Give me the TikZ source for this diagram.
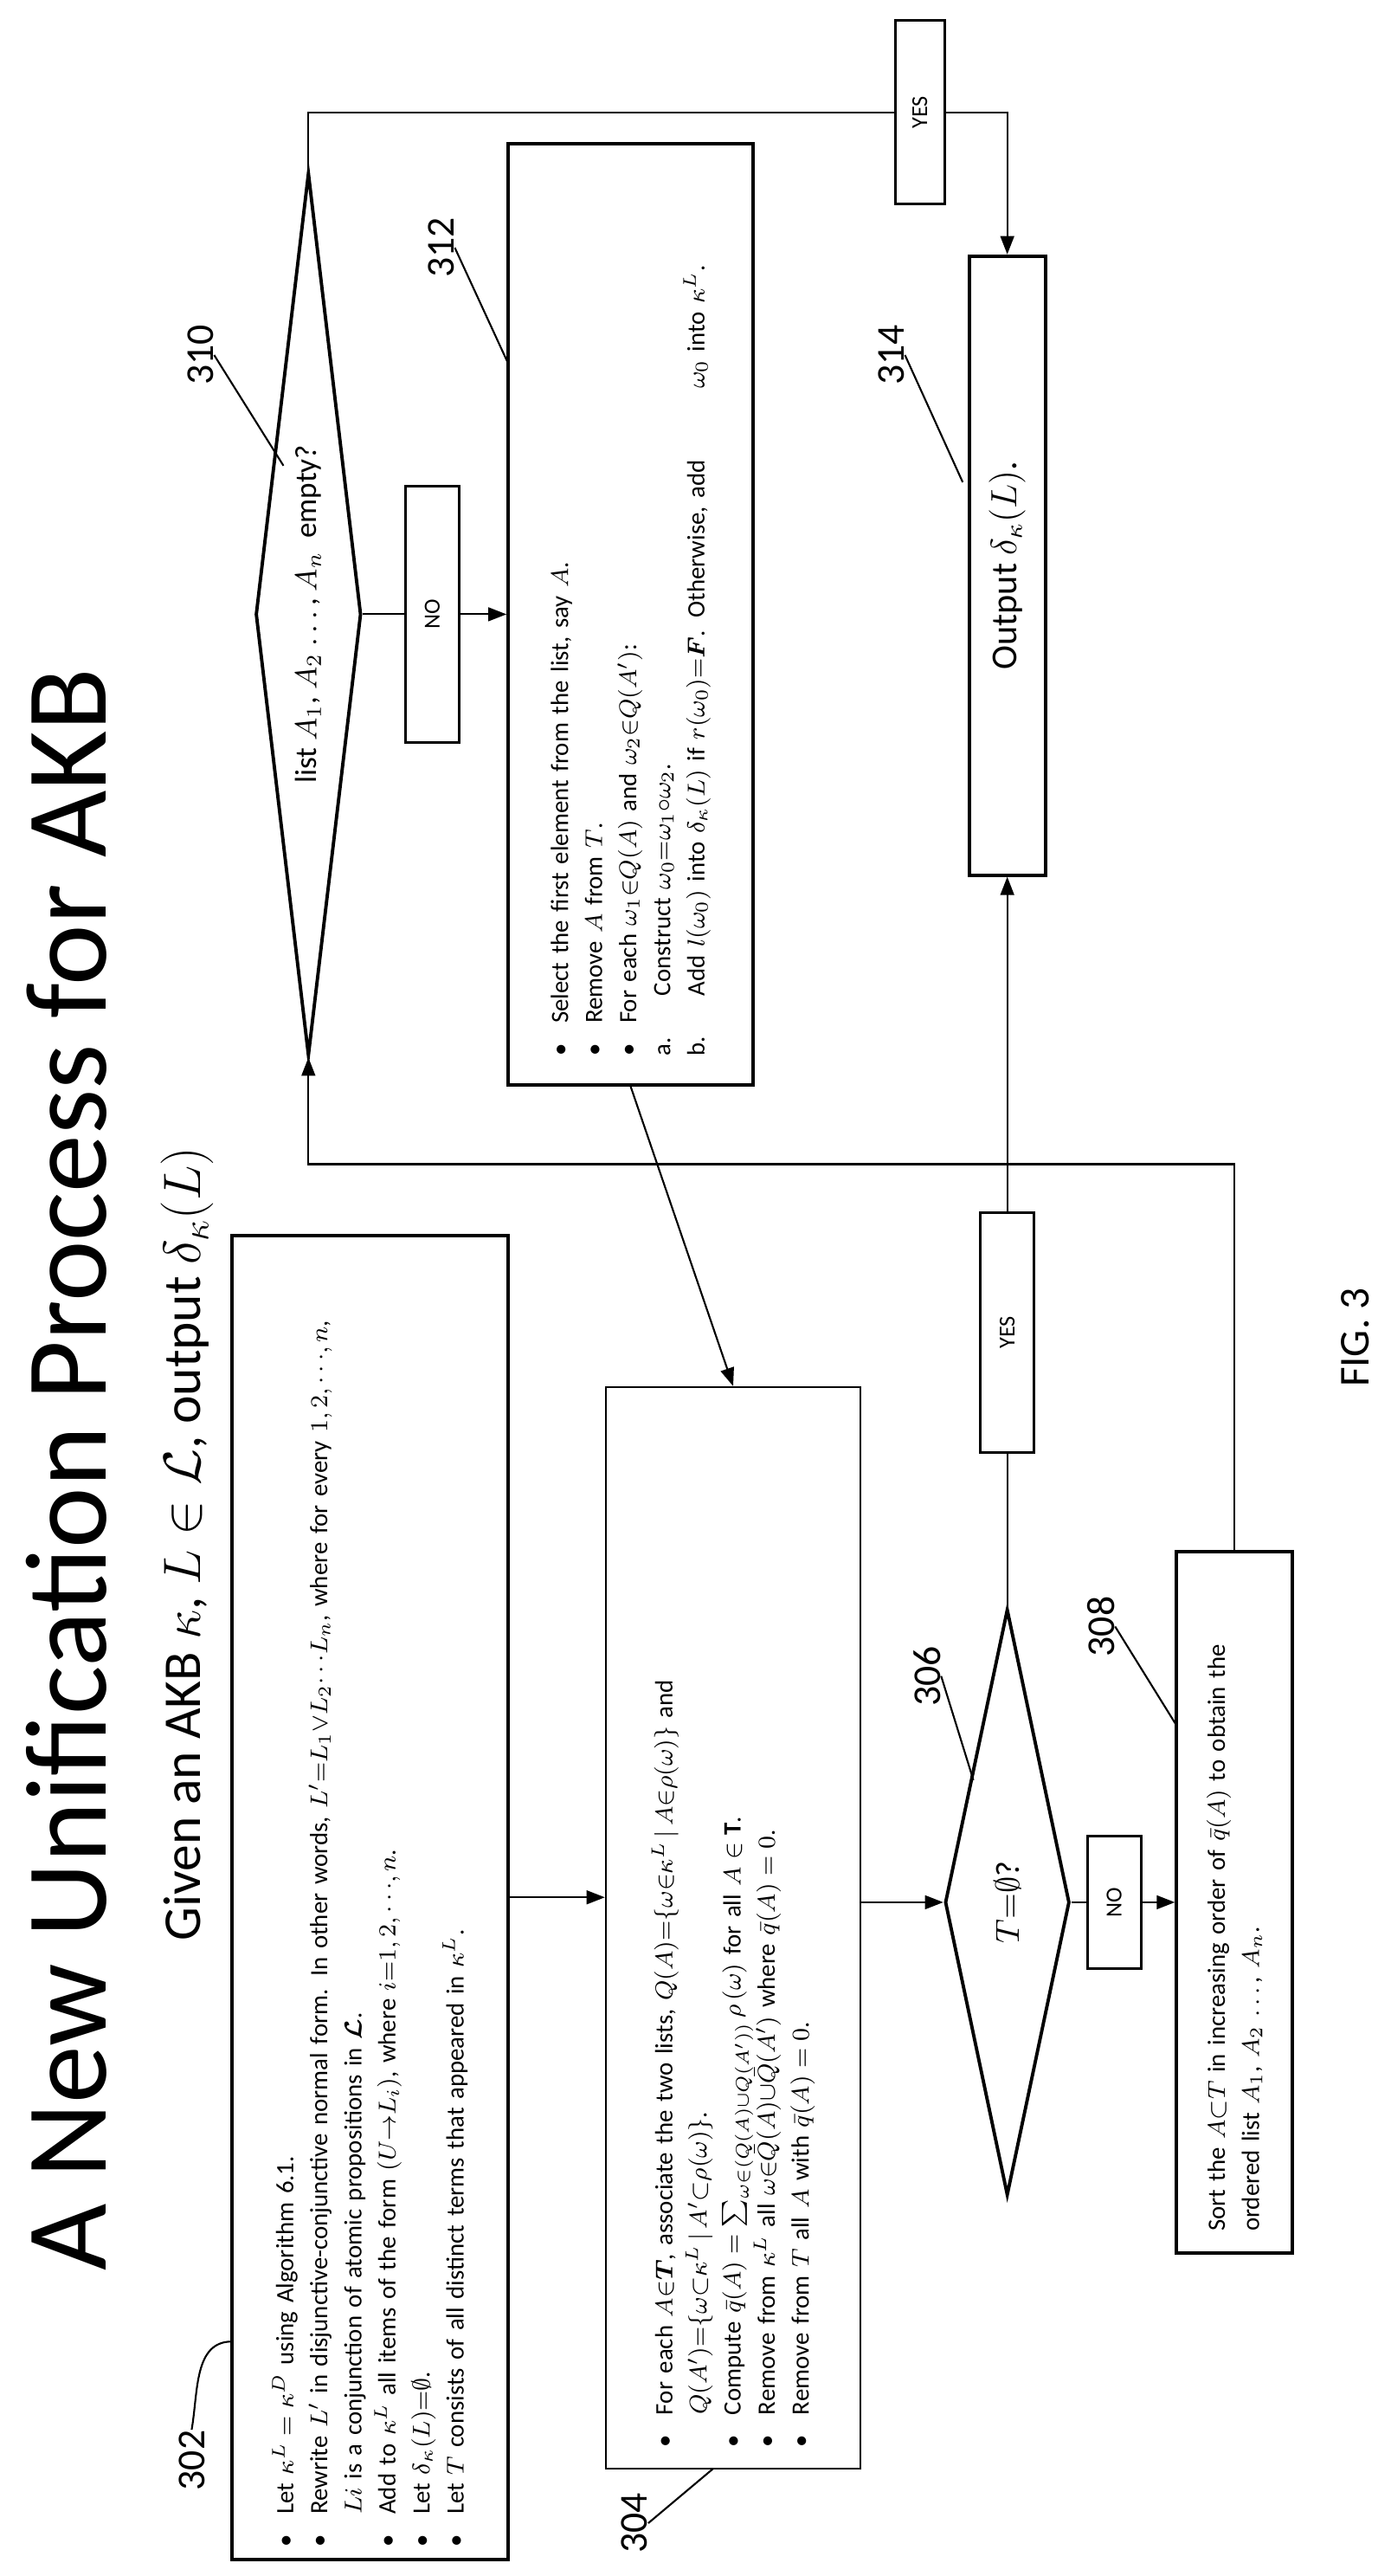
\documentclass[tikz,border=0pt]{standalone}
\usepackage{amsmath}
\usepackage{amssymb}
\usepackage{fontspec}
\setmainfont{Carlito}
\usetikzlibrary{positioning}
\usetikzlibrary{shapes.geometric}
\usetikzlibrary{arrows.meta}

\newcommand{\itm}{\makebox[1.3em][l]{\textbullet}}
\newcommand{\cnt}{\hspace*{1.3em}}

\begin{document}
\begin{tikzpicture}[x=0.0103cm, y=-0.01907cm,
    every node/.style={rotate=90, inner sep=0pt},
    box/.style={draw, line width=1.1pt, rectangle},
    txt/.style={font=\fontsize{8.2}{11.2}\selectfont, align=left},
    dec/.style={draw, line width=1.1pt, diamond},
    tag/.style={draw, line width=0.9pt, rectangle, font=\fontsize{7.5}{9}\selectfont},
    num/.style={font=\fontsize{13}{15}\selectfont},
    line/.style={line width=0.6pt},
    arr/.style={line width=0.6pt, -{Triangle[length=6pt,width=4.5pt]}}]
    \useasboundingbox (0,0) rectangle (1560,1560);

    % titoli
    \node[font=\fontsize{38}{40}\selectfont] (title) at (75,890) {A New Unification Process for AKB};
    \node[font=\fontsize{17.5}{20}\selectfont] (sub) at (210,935) {Given an AKB $\kappa$, $L\in\mathcal{L}$, output $\delta_\kappa(L)$};
    \node[font=\fontsize{14}{16}\selectfont] (fig) at (1520,810) {FIG. 3};

    % blocchi
    \node[box, minimum width=15.29cm, minimum height=3.19cm] (b302) at (415,1149) {};
    \node[txt, text width=15cm] at (b302) {%
        \itm Let $\kappa^L=\kappa^D$ using Algorithm 6.1.\\
        \itm Rewrite $L'$ in disjunctive-conjunctive normal form. In other words, $L'{=}L_1{\vee}L_2{\cdots}L_n$, where for every $1,2,{\cdots},n$,\\
        \cnt $Li$ is a conjunction of atomic propositions in $\boldsymbol{\mathcal{L}}$.\\
        \itm Add to $\kappa^L$ all items of the form $(U{\rightarrow}L_i)$, where $i{=}1,2,{\cdots},n$.\\
        \itm Let $\delta_\kappa(L){=}\emptyset$.\\
        \itm Let $T$ consists of all distinct terms that appeared in $\kappa^L$.};
    \node[box, line width=0.7pt, minimum width=12.49cm, minimum height=2.94cm] (b304) at (822.5,1167.5) {};
    \node[txt, text width=12cm] at (b304) {%
        \itm For each $A{\in}\boldsymbol{T}$, associate the two lists, $Q(A){=}\{\omega{\in}\kappa^L\,|\,A{\in}\rho(\omega)\}$ and\\
        \cnt $Q(A'){=}\{\omega{\subset}\kappa^L\,|\,A'{\subset}\rho(\omega)\}$.\\
        \itm Compute $\bar q(A)=\sum_{\omega\in(Q(A)\cup Q(A'))}\rho\,(\omega)$ for all $A\in\mathbf{T}$.\\
        \itm Remove from $\kappa^L$ all $\omega{\in}\bar Q(A){\cup}\bar Q(A')$ where $\bar q(A)=0$.\\
        \itm Remove from $T$ all $A$ with $\bar q(A)=0$.};
    \node[dec, aspect=4.7, minimum width=6.77cm, minimum height=1.44cm] (d306) at (1130,1152) {\fontsize{11}{13}\selectfont$T{=}\emptyset$?};
    \node[box, minimum width=8.1cm, minimum height=1.34cm] (b308) at (1385,1152) {};
    \node[txt, text width=7.6cm] at (b308) {%
        Sort the $A{\subset}T$ in increasing order of $\bar q(A)$ to obtain the\\
        ordered list $A_1$, $A_2$ $\dots$, $A_n$.};
    \node[dec, aspect=8, minimum width=10.2cm, minimum height=1.22cm] (d310) at (346,372) {\fontsize{10}{12}\selectfont list $A_1$, $A_2$ $\dots$, $A_n$ \ empty?};
    \node[box, minimum width=10.87cm, minimum height=2.83cm] (b312) at (707.5,372) {};
    \node[txt, text width=10.2cm] at (b312) {%
        \itm Select the first element from the list, say $A$.\\
        \itm Remove $A$ from $T$.\\
        \itm For each $\omega_1{\in}Q(A)$ and $\omega_2{\in}Q(A')$:\\
        \makebox[2.4em][l]{a.}Construct $\omega_0{=}\omega_1{\circ}\omega_2$.\\
        \makebox[2.4em][l]{b.}Add $l(\omega_0)$ into $\delta_\kappa(L)$ if $r(\omega_0){=}\boldsymbol{F}$. Otherwise, add \hspace{2.2em} $\omega_0$ into $\kappa^L$.};
    \node[box, minimum width=7.15cm, minimum height=0.88cm, font=\fontsize{12}{14}\selectfont] (b314) at (1130,342.5) {Output $\delta_\kappa(L)$.};

    % si/no
    \node[tag, minimum width=2.96cm, minimum height=0.62cm] (no310) at (485,372) {NO};
    \node[tag, minimum width=1.53cm, minimum height=0.62cm] (no306) at (1250,1152) {NO};
    \node[tag, minimum width=2.77cm, minimum height=0.62cm] (yes306) at (1130,807) {YES};
    \node[tag, minimum width=2.12cm, minimum height=0.57cm] (yes310) at (1032,68) {YES};

    % frecce
    \draw[arr] (b302.south) -- (b302.south -| b304.north);
    \draw[arr] (d306.north -| b304.south) -- (d306.north);
    \draw[line] (d306.south) -- (no306);
    \draw[arr] (no306) -- (b308.north);
    \draw[line] (d306.east) -- (yes306);
    \draw[arr] (yes306) -- (b314.west);
    \coordinate (loop) at (346,705);
    \draw[arr] (b308.east) -- (b308.east |- loop) -- (loop) -- (d310.west);
    \draw[line] (d310.south) -- (no310);
    \draw[arr] (no310) -- (b312.north);
    \draw[line] (d310.east) |- (yes310);
    \draw[arr] (yes310) -| (b314.east);
    \draw[arr] (b312.west) -- (b304.east);

    % numeri
    \node[num] (n302) at (215,1490) {302};
    \node[num] (n304) at (712,1528) {304};
    \node[num] (n306) at (1040,1015) {306};
    \node[num] (n308) at (1235,985) {308};
    \node[num] (n310) at (225,215) {310};
    \node[num] (n312) at (495,150) {312};
    \node[num] (n314) at (1000,215) {314};
    \coordinate (c302) at (260,1418);
    \coordinate (c304) at (800,1495);
    \coordinate (c306) at (1092,1078);
    \coordinate (c308) at (1320,1045);
    \coordinate (c310) at (318,282);
    \coordinate (c312) at (570,220);
    \coordinate (c314) at (1080,292);
    \draw[line] (n302.east) to[out=80, in=180] (c302);
    \draw[line] (n304.south) -- (c304);
    \draw[line] (n306.south) -- (c306);
    \draw[line] (n308.south) -- (c308);
    \draw[line] (n310.south) -- (c310);
    \draw[line] (n312.south) -- (c312);
    \draw[line] (n314.south) -- (c314);
\end{tikzpicture}
\end{document}
